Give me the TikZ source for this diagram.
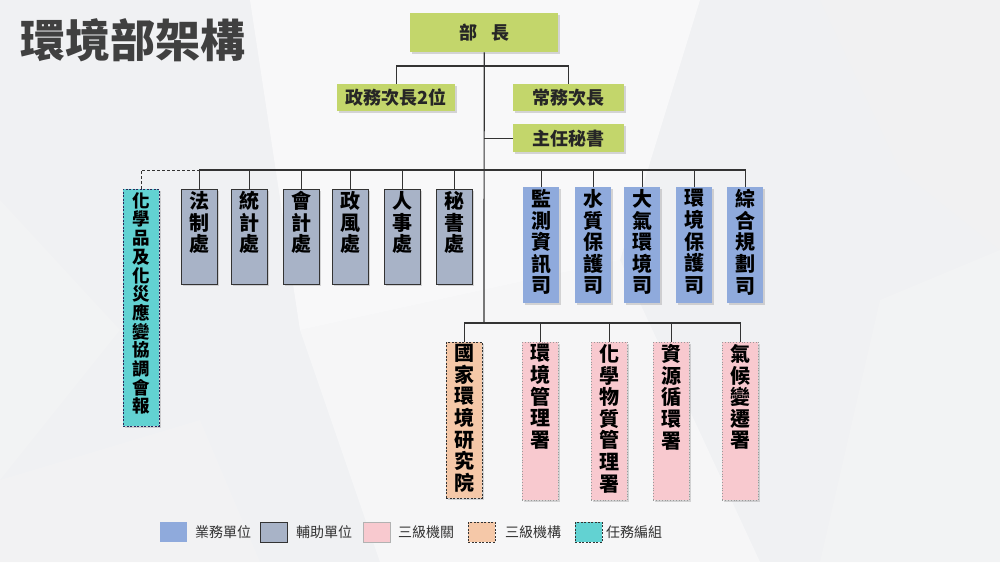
\documentclass[tikz,border=0pt]{standalone}
\usepackage{fontspec}
\setmainfont{Noto Sans CJK TC}
\usetikzlibrary{shadows}
\definecolor{ygreen}{HTML}{C3D66B}
\definecolor{graybox}{HTML}{A8B3C7}
\definecolor{bluebox}{HTML}{8FAADC}
\definecolor{pinkbox}{HTML}{F8C9CF}
\definecolor{peachbox}{HTML}{F5C8A8}
\definecolor{turqbox}{HTML}{62D2D2}
\definecolor{linec}{HTML}{333333}
\definecolor{bgc}{HTML}{F0F1F3}
\newcommand\vcol[3]{\parbox[c][#1][t]{#2}{\centering\fontsize{20pt}{21.6pt}\selectfont\bfseries\vspace*{2pt}#3\par}}
\newcommand\vcolsm[3]{\parbox[c][#1][t]{#2}{\centering\fontsize{17.5pt}{18.7pt}\selectfont\bfseries\vspace*{3pt}#3\par}}
\tikzset{
  shad/.style={drop shadow={opacity=0.3, shadow xshift=1.5pt, shadow yshift=-1.5pt}},
  colbox/.style={inner sep=0pt, anchor=north west, shad, line width=0.8pt},
  ybox/.style={fill=ygreen, shad, inner sep=0pt, anchor=north west, font=\fontsize{18pt}{20pt}\selectfont\bfseries, text=black!85},
  gbox/.style={colbox, fill=graybox, draw=linec},
  bbox/.style={colbox, fill=bluebox},
  pbox/.style={colbox, fill=pinkbox, draw=gray!80, dotted},
  obox/.style={colbox, fill=peachbox, draw=linec, dash pattern=on 2pt off 1.5pt},
  tbox/.style={colbox, fill=turqbox, draw=linec!80!blue, dash pattern=on 2pt off 1.5pt},
  conn/.style={draw=linec, line width=1.2pt},
  swatch/.style={inner sep=0pt, anchor=north west, minimum width=27pt, minimum height=20pt},
  legtext/.style={anchor=west, inner sep=0pt, font=\fontsize{14pt}{16pt}\selectfont, text=linec},
}
\begin{document}
\begin{tikzpicture}[x=1pt,y=-1pt]
\useasboundingbox (0,0) rectangle (1000,562);
% background
\fill[bgc] (0,0) rectangle (1000,562);
\fill[white,opacity=0.55] (250,0) -- (700,0) -- (620,260) -- (300,330) -- cycle;
\fill[white,opacity=0.4] (300,330) -- (620,260) -- (760,562) -- (380,562) -- cycle;
\fill[black!5,opacity=0.5] (820,0) -- (1000,0) -- (1000,250) -- (900,170) -- cycle;
\fill[black!4,opacity=0.5] (880,300) -- (1000,250) -- (1000,562) -- (820,562) -- cycle;
\fill[black!4,opacity=0.5] (0,200) -- (120,330) -- (0,480) -- cycle;
\fill[black!4,opacity=0.4] (0,480) -- (200,420) -- (260,562) -- (0,562) -- cycle;

% title
\node[anchor=west, inner sep=0pt, font=\fontsize{45pt}{48pt}\selectfont\bfseries, text=black!75] (title) at (20,40) {環境部架構};

% top level
\node[ybox, minimum width=148pt, minimum height=39pt] (minister) at (410,13) {部\hspace{14pt}長};
\node[ybox, minimum width=118pt, minimum height=27pt] (vice1) at (337,84) {政務次長2位};
\node[ybox, minimum width=111pt, minimum height=27pt] (vice2) at (513,84) {常務次長};
\node[ybox, minimum width=111pt, minimum height=28pt] (sec) at (513,124) {主任秘書};

% task force
\node[tbox] (chem) at (123,189) {\vcolsm{237pt}{36pt}{化\\學\\品\\及\\化\\災\\應\\變\\協\\調\\會\\報}};
% auxiliary units
\node[gbox] (fa) at (181,189) {\vcol{95pt}{36pt}{法\\制\\處}};
\node[gbox] (tj) at (231,189) {\vcol{95pt}{36pt}{統\\計\\處}};
\node[gbox] (kj) at (283,189) {\vcol{95pt}{36pt}{會\\計\\處}};
\node[gbox] (zf) at (332,189) {\vcol{95pt}{36pt}{政\\風\\處}};
\node[gbox] (rs) at (384,189) {\vcol{95pt}{36pt}{人\\事\\處}};
\node[gbox] (ms) at (436,189) {\vcol{95pt}{36pt}{秘\\書\\處}};
% business units
\node[bbox] (jc) at (523,187) {\vcol{116pt}{36pt}{監\\測\\資\\訊\\司}};
\node[bbox] (sz) at (575,187) {\vcol{116pt}{36pt}{水\\質\\保\\護\\司}};
\node[bbox] (dq) at (624,187) {\vcol{116pt}{36pt}{大\\氣\\環\\境\\司}};
\node[bbox] (hb) at (676,187) {\vcol{116pt}{36pt}{環\\境\\保\\護\\司}};
\node[bbox] (zh) at (727,187) {\vcol{116pt}{36pt}{綜\\合\\規\\劃\\司}};
% third level
\node[obox] (guo) at (446,342) {\vcol{156pt}{36pt}{國\\家\\環\\境\\研\\究\\院}};
\node[pbox] (hg) at (522,342) {\vcol{158pt}{36pt}{環\\境\\管\\理\\署}};
\node[pbox] (hx) at (591,342) {\vcol{158pt}{36pt}{化\\學\\物\\質\\管\\理\\署}};
\node[pbox] (zy) at (653,342) {\vcol{158pt}{36pt}{資\\源\\循\\環\\署}};
\node[pbox] (qh) at (722,342) {\vcol{158pt}{36pt}{氣\\候\\變\\遷\\署}};

% connectors
\coordinate (spine) at (484,323);
\coordinate (bar) at (484,170);
\draw[conn] (minister.south) -- (spine);
\draw[conn] (vice1.north) -- ++(0,-18) -| (vice2.north);
\draw[conn] (sec.west) -- (sec.west -| minister.south);
\draw[conn] (fa.north) -- (fa.north |- bar) -- (zh.north |- bar) -- (zh.north);
\foreach \n in {tj,kj,zf,rs,ms,jc,sz,dq,hb} \draw[conn] (\n.north) -- (\n.north |- bar);
\draw[draw=linec, line width=0.9pt, dash pattern=on 3pt off 2pt] (chem.north) |- (fa.north |- bar);
\draw[conn] (guo.north) -- (guo.north |- spine) -- (qh.north |- spine) -- (qh.north);
\foreach \n in {hg,hx,zy} \draw[conn] (\n.north) -- (\n.north |- spine);

% legend
\node[swatch, fill=bluebox] (l1) at (160,522) {};
\node[legtext] (t1) at (195,532) {業務單位};
\node[swatch, fill=graybox, draw=linec, line width=0.8pt] (l2) at (260,522) {};
\node[legtext] (t2) at (296,532) {輔助單位};
\node[swatch, fill=pinkbox, draw=gray!60, line width=0.5pt] (l3) at (363,522) {};
\node[legtext] (t3) at (398,532) {三級機關};
\node[swatch, fill=peachbox, draw=linec, line width=0.6pt, dash pattern=on 2pt off 1.5pt] (l4) at (468,522) {};
\node[legtext] (t4) at (505,532) {三級機構};
\node[swatch, fill=turqbox, draw=linec, line width=0.6pt, dash pattern=on 2pt off 1.5pt] (l5) at (575,522) {};
\node[legtext] (t5) at (606,532) {任務編組};
\end{tikzpicture}
\end{document}
